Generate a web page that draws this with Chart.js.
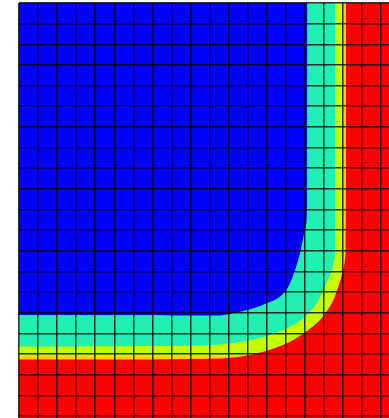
<!DOCTYPE html>
<html>
<head>
<meta charset="utf-8">
<script src="https://cdn.jsdelivr.net/npm/chart.js@4.4.1/dist/chart.umd.min.js"></script>
<style>
  html, body { margin: 0; padding: 0; background: #ffffff; }
  #wrap { width: 389px; height: 418px; }
</style>
</head>
<body>
<div id="wrap"><canvas id="c" width="389" height="418"></canvas></div>
<script>
// Mesh (grid cells) and domain
const gridColumns = [0,1,2,3,4,5,6,7,8,9,10,11,12,13,14,15,16,17,18,19];
const gridRows = [0,1,2,3,4,5,6,7,8,9,10,11,12,13,14,15,16,17,18,19,20];
const domainX = [0, 20];
const domainY = [-1, -1];

// Contour boundaries (region above/left of each edge has the lower level)
// Level 1: blue / cyan edge
const blueEdgeX = [0, 5.82, 10.55, 11.24, 12.29, 13.0, 13.69, 14.13, 14.48, 14.74, 14.92, 15.09, 15.11, 15.13];
const blueEdgeY = [4.89, 4.89, 4.87, 4.97, 5.22, 5.46, 5.78, 6.26, 7.07, 7.88, 8.68, 9.49, 13.37, 20];
// Level 2: cyan / yellow-green edge
const cyanEdgeX = [0, 5.82, 9.5, 11.07, 12.12, 13.17, 14.22, 15.01, 15.62, 16.05, 16.41, 16.58, 16.58];
const cyanEdgeY = [3.37, 3.38, 3.41, 3.52, 3.68, 3.92, 4.32, 4.81, 5.46, 6.26, 7.07, 7.88, 20];
// Level 3: yellow-green / yellow edge
const limeEdgeX = [0, 5.82, 10.28, 11.49, 12.75, 14.01, 14.9, 15.77, 16.37, 16.68, 16.89, 16.94, 16.94];
const limeEdgeY = [2.93, 2.91, 2.91, 2.93, 3.12, 3.52, 4.0, 4.65, 5.46, 6.26, 7.31, 8.52, 20];
// Level 4: yellow / red edge
const yellowEdgeX = [0, 5.82, 10.55, 11.6, 12.82, 14.05, 14.92, 15.79, 16.41, 16.75, 17.01, 17.13, 17.16];
const yellowEdgeY = [2.74, 2.74, 2.79, 2.87, 3.11, 3.52, 4.0, 4.65, 5.46, 6.26, 7.07, 7.88, 20];

const levelColors = ['#0000FF', '#22F0B2', '#C4FF00', '#FFD400', '#FF0000'];

function pts(xs, ys) { return xs.map((x, i) => ({ x: x, y: ys[i] })); }

function region(xs, ys, color) {
  return {
    data: pts(xs, ys),
    showLine: true,
    fill: 'end',
    backgroundColor: color,
    borderColor: color,
    borderWidth: 0,
    pointRadius: 0,
    pointHoverRadius: 0,
    tension: 0.3
  };
}

const datasets = [
  region(blueEdgeX, blueEdgeY, levelColors[0]),
  region(cyanEdgeX, cyanEdgeY, levelColors[1]),
  region(limeEdgeX, limeEdgeY, levelColors[2]),
  region(yellowEdgeX, yellowEdgeY, levelColors[3]),
  region(domainX, domainY, levelColors[4])
];

const gridStyle = {
  color: 'rgba(0,0,0,0.8)',
  lineWidth: 1.5,
  drawTicks: false,
  z: 1
};

new Chart(document.getElementById('c'), {
  type: 'scatter',
  data: { datasets: datasets },
  options: {
    responsive: false,
    animation: false,
    events: [],
    layout: { padding: { left: 19, top: 3, right: 0, bottom: 0 } },
    plugins: { legend: { display: false }, tooltip: { enabled: false } },
    scales: {
      x: {
        type: 'linear',
        min: 0,
        max: 19.41,
        border: { display: false },
        grid: gridStyle,
        ticks: { display: false },
        afterBuildTicks: (s) => { s.ticks = gridColumns.map(v => ({ value: v })); }
      },
      y: {
        type: 'linear',
        min: -0.097,
        max: 20,
        border: { display: false },
        grid: gridStyle,
        ticks: { display: false },
        afterBuildTicks: (s) => { s.ticks = gridRows.map(v => ({ value: v })); }
      }
    }
  }
});
</script>
</body>
</html>
